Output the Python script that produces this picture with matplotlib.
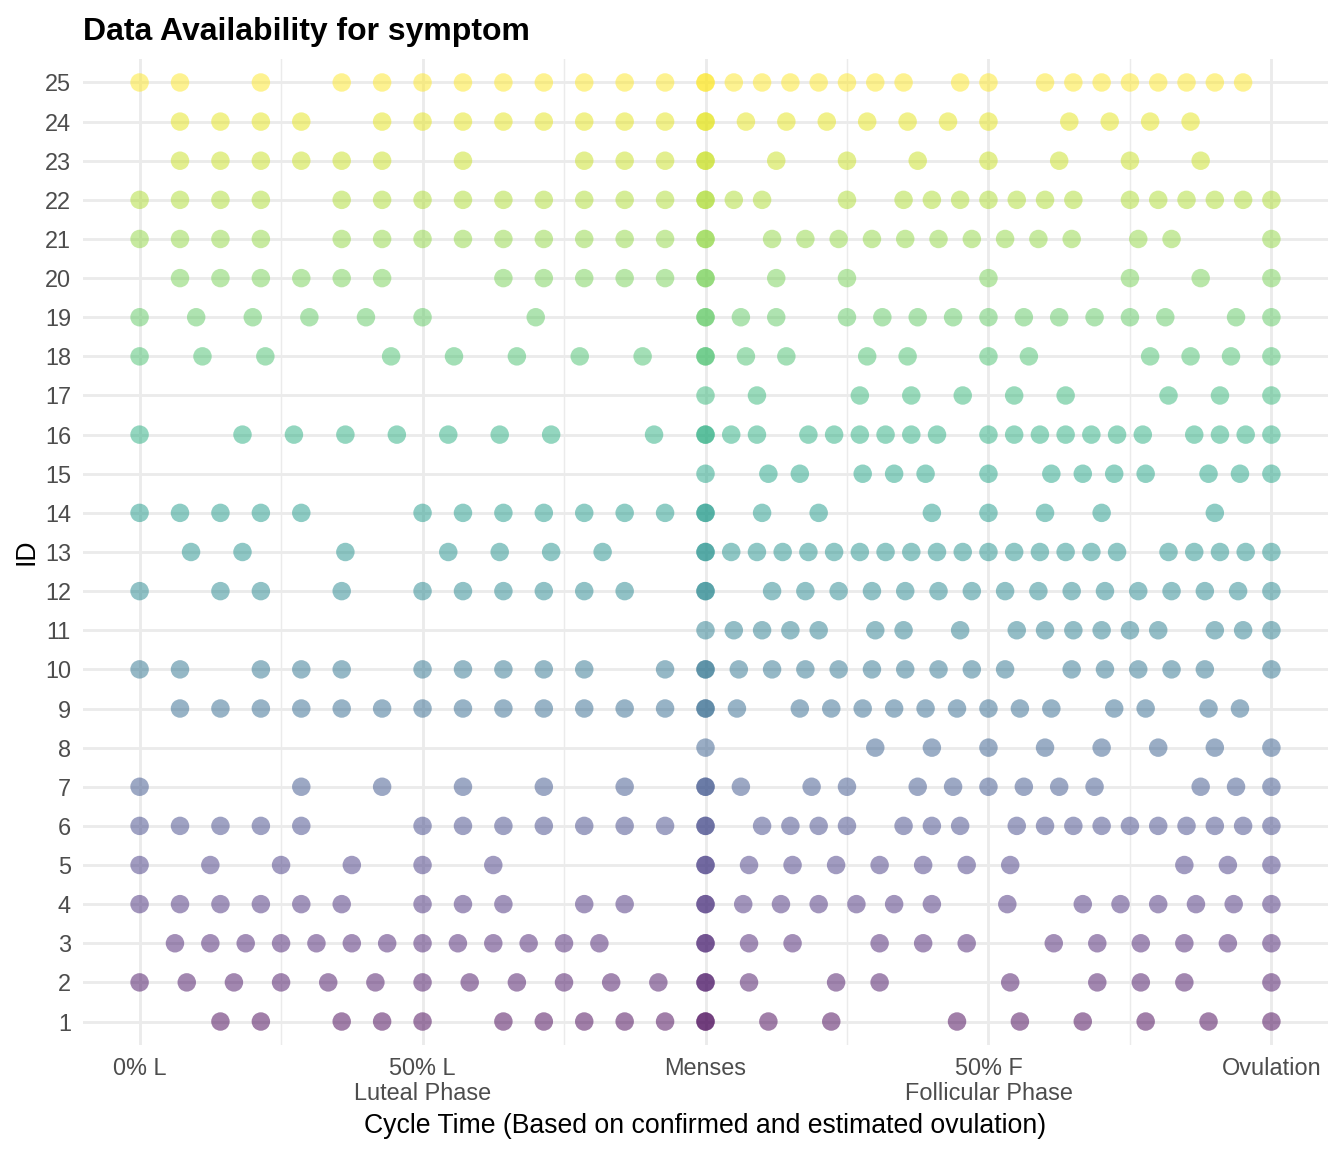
import numpy as np
import matplotlib
matplotlib.use('Agg')
import matplotlib.pyplot as plt

plt.rcParams['font.family'] = ['Liberation Sans', 'DejaVu Sans']

# participant ids (bottom to top)
ids = [1, 2, 3, 4, 5, 6, 7, 8, 9, 10, 11, 12, 13, 14, 15, 16, 17, 18, 19, 20, 21, 22, 23, 24, 25]

# luteal phase: number of days in phase and days with data (0 = start of luteal, len = menses)
luteal_len = [14, 12, 16, 14, 8, 14, 7, 0, 14, 14, 0, 14, 11, 14, 0, 11, 0, 9, 10, 14, 14, 14, 14, 14, 14]
luteal_days = [
    [2, 3, 5, 6, 7, 9, 10, 11, 12, 13, 14],
    [0, 1, 2, 3, 4, 5, 6, 7, 8, 9, 10, 11, 12],
    [1, 2, 3, 4, 5, 6, 7, 8, 9, 10, 11, 12, 13, 16],
    [0, 1, 2, 3, 4, 5, 7, 8, 9, 11, 12, 14],
    [0, 1, 2, 3, 4, 5, 8],
    [0, 1, 2, 3, 4, 7, 8, 9, 10, 11, 12, 13, 14],
    [0, 2, 3, 4, 5, 6, 7],
    [],
    [1, 2, 3, 4, 5, 6, 7, 8, 9, 10, 11, 12, 13, 14],
    [0, 1, 3, 4, 5, 7, 8, 9, 10, 11, 13, 14],
    [],
    [0, 2, 3, 5, 7, 8, 9, 10, 11, 12, 14],
    [1, 2, 4, 6, 7, 8, 9, 11],
    [0, 1, 2, 3, 4, 7, 8, 9, 10, 11, 12, 13, 14],
    [],
    [0, 2, 3, 4, 5, 6, 7, 8, 10, 11],
    [],
    [0, 1, 2, 4, 5, 6, 7, 8, 9],
    [0, 1, 2, 3, 4, 5, 7, 10],
    [1, 2, 3, 4, 5, 6, 9, 10, 11, 12, 13, 14],
    [0, 1, 2, 3, 5, 6, 7, 8, 9, 10, 11, 12, 13, 14],
    [0, 1, 2, 3, 5, 6, 7, 8, 9, 10, 11, 12, 13, 14],
    [1, 2, 3, 4, 5, 6, 8, 11, 12, 13, 14],
    [1, 2, 3, 4, 6, 7, 8, 9, 10, 11, 12, 13, 14],
    [0, 1, 3, 5, 6, 7, 8, 9, 10, 11, 12, 13, 14],
]

# follicular phase: number of days in phase and days with data (0 = menses, len = ovulation)
foll_len = [9, 13, 13, 15, 13, 20, 16, 10, 18, 17, 20, 17, 22, 10, 18, 22, 11, 14, 16, 8, 17, 20, 8, 14, 20]
foll_days = [
    [0, 1, 2, 4, 5, 6, 7, 8, 9],
    [0, 1, 3, 4, 7, 9, 10, 11, 13],
    [0, 1, 2, 4, 5, 6, 8, 9, 10, 11, 12, 13],
    [0, 1, 2, 3, 4, 5, 6, 8, 10, 11, 12, 13, 14, 15],
    [0, 1, 2, 3, 4, 5, 6, 7, 11, 12, 13],
    [0, 2, 3, 4, 5, 7, 8, 9, 11, 12, 13, 14, 15, 16, 17, 18, 19, 20],
    [0, 1, 3, 4, 6, 7, 8, 9, 10, 11, 14, 15, 16],
    [0, 3, 4, 5, 6, 7, 8, 9, 10],
    [0, 1, 3, 4, 5, 6, 7, 8, 9, 10, 11, 13, 14, 16, 17],
    [0, 1, 2, 3, 4, 5, 6, 7, 8, 9, 11, 12, 13, 14, 15, 17],
    [0, 1, 2, 3, 4, 6, 7, 9, 11, 12, 13, 14, 15, 16, 18, 19, 20],
    [0, 2, 3, 4, 5, 6, 7, 8, 9, 10, 11, 12, 13, 14, 15, 16, 17],
    [0, 1, 2, 3, 4, 5, 6, 7, 8, 9, 10, 11, 12, 13, 14, 15, 16, 18, 19, 20, 21, 22],
    [0, 1, 2, 4, 5, 6, 7, 9],
    [0, 2, 3, 5, 6, 7, 9, 11, 12, 13, 14, 16, 17, 18],
    [0, 1, 2, 4, 5, 6, 7, 8, 9, 11, 12, 13, 14, 15, 16, 17, 19, 20, 21, 22],
    [0, 1, 3, 4, 5, 6, 7, 9, 10, 11],
    [0, 1, 2, 4, 5, 7, 8, 11, 12, 13, 14],
    [0, 1, 2, 4, 5, 6, 7, 8, 9, 10, 11, 12, 13, 15, 16],
    [0, 1, 2, 4, 6, 7, 8],
    [0, 2, 3, 4, 5, 6, 7, 8, 9, 10, 11, 13, 14, 17],
    [0, 1, 2, 5, 7, 8, 9, 10, 11, 12, 13, 15, 16, 17, 18, 19, 20],
    [0, 1, 2, 3, 4, 5, 6, 7],
    [0, 1, 2, 3, 4, 5, 6, 7, 9, 10, 11, 12],
    [0, 1, 2, 3, 4, 5, 6, 7, 9, 10, 12, 13, 14, 15, 16, 17, 18, 19],
]

tick_pos = [-1, -0.5, 0, 0.5, 1]
tick_labels = ['0% L', '50% L\nLuteal Phase', 'Menses', '50% F\nFollicular Phase', 'Ovulation']

# build long table: cycle time scaled -1..0 (luteal) and 0..1 (follicular)
xs, ys = [], []
for i, pid in enumerate(ids):
    for d in luteal_days[i]:
        xs.append(-1 + d / luteal_len[i])
        ys.append(pid)
    for d in foll_days[i]:
        xs.append(d / foll_len[i])
        ys.append(pid)
xs = np.array(xs)
ys = np.array(ys)

fig = plt.figure(figsize=(7, 6), dpi=192)
ax = fig.add_axes([83 / 1344, 1 - 1045 / 1152, (1328 - 83) / 1344, (1045 - 59) / 1152])

ax.scatter(xs, ys, c=ys, cmap='viridis', vmin=min(ids), vmax=max(ids),
           s=48, alpha=0.5, linewidths=0, zorder=3)

ax.set_xlim(-1.1, 1.1)
ax.set_ylim(0.4, 25.6)
ax.set_xticks(tick_pos)
ax.set_xticklabels(tick_labels, linespacing=1.12)
ax.set_xticks([-0.75, -0.25, 0.25, 0.75], minor=True)
ax.set_yticks(ids)
ax.set_yticklabels([str(i) for i in ids])

ax.grid(True, which='major', color='#EBEBEB', linewidth=1.07, zorder=0)
ax.grid(True, which='minor', axis='x', color='#EBEBEB', linewidth=0.55, zorder=0)
ax.set_axisbelow(True)
for sp in ax.spines.values():
    sp.set_visible(False)
ax.tick_params(which='both', length=0)
ax.tick_params(axis='x', labelsize=8.8, labelcolor='#4D4D4D', pad=4.5)
ax.tick_params(axis='y', labelsize=8.8, labelcolor='#4D4D4D', pad=4.5)

ax.set_xlabel('Cycle Time (Based on confirmed and estimated ovulation)', fontsize=10, labelpad=3)
ax.set_ylabel('ID', fontsize=10, labelpad=2)
ax.set_title('Data Availability for symptom', fontsize=12, fontweight='bold', loc='left', pad=7)

fig.savefig('out.png', dpi=192)
